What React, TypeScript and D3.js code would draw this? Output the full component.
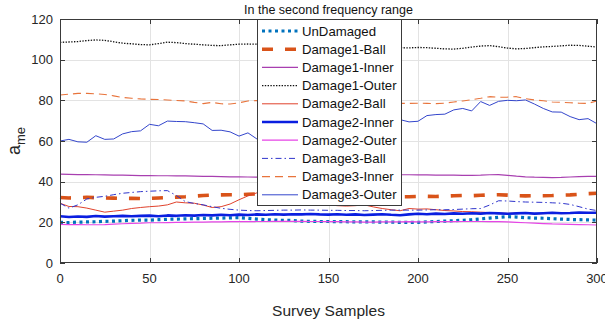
import React, { useRef, useEffect } from 'react';
import * as d3 from 'd3';

// survey sample positions (every 5 samples)
const samples = d3.range(0, 301, 5);

const seriesNames = [
  'UnDamaged', 'Damage1-Ball', 'Damage1-Inner', 'Damage1-Outer', 'Damage2-Ball',
  'Damage2-Inner', 'Damage2-Outer', 'Damage3-Ball', 'Damage3-Inner', 'Damage3-Outer',
];

const unDamaged = [
  20.0, 19.9, 20.1, 20.2, 20.3, 20.5, 20.6, 20.8, 21.0, 21.1, 21.1, 21.3, 21.5, 21.6, 21.7, 21.8,
  21.9, 22.0, 22.1, 22.2, 22.3, 22.0, 21.6, 21.3, 21.1, 21.0, 20.9, 20.6, 20.5, 20.4, 20.4, 20.3,
  20.3, 20.2, 20.2, 20.2, 20.1, 20.1, 20.0, 20.0, 20.0, 20.2, 20.4, 20.6, 20.8, 21.0, 21.3, 21.7,
  22.1, 22.5, 22.8, 22.6, 22.3, 22.1, 22.0, 21.8, 21.6, 21.4, 21.3, 21.2, 21.1,
];
const damage1Ball = [
  32.2, 32.0, 32.1, 32.3, 32.1, 32.0, 31.9, 31.8, 31.8, 31.7, 31.8, 32.0, 32.2, 32.4, 32.6, 32.9,
  33.2, 33.4, 33.5, 33.6, 33.6, 33.8, 34.0, 33.8, 33.6, 33.5, 33.4, 33.3, 33.2, 33.1, 33.0, 32.9,
  32.8, 32.7, 32.7, 32.6, 32.6, 32.6, 32.6, 32.6, 32.7, 32.8, 32.7, 32.9, 33.1, 33.2, 33.1, 33.3,
  33.5, 33.6, 33.4, 33.1, 33.0, 33.1, 33.1, 33.2, 33.4, 33.5, 33.8, 34.1, 34.3,
];
const damage1Inner = [
  43.7, 43.6, 43.5, 43.5, 43.4, 43.3, 43.2, 43.2, 43.1, 43.0, 43.0, 42.9, 42.9, 42.8, 42.8, 42.7,
  42.6, 42.6, 42.5, 42.4, 42.4, 42.3, 42.2, 42.3, 42.4, 42.5, 42.6, 42.7, 42.8, 42.9, 43.0, 43.1,
  43.2, 43.2, 43.3, 43.3, 43.4, 43.4, 43.4, 43.4, 43.3, 43.3, 43.2, 43.2, 43.2, 43.1, 43.1, 43.2,
  43.4, 43.5, 43.1, 42.7, 42.4, 42.2, 42.1, 42.0, 42.1, 42.3, 42.5, 42.6, 42.6,
];
const damage1Outer = [
  108.5, 108.7, 108.9, 109.4, 109.7, 109.5, 108.8, 108.1, 107.8, 107.4, 107.3, 107.9, 108.6, 108.4,
  107.9, 107.6, 107.3, 107.0, 106.9, 107.3, 107.6, 107.7, 107.6, 107.5, 107.4, 107.3, 107.2, 107.1,
  107.0, 106.9, 106.8, 106.7, 106.6, 106.5, 106.4, 106.3, 106.2, 106.0, 105.9, 105.8, 106.0, 105.9,
  105.6, 105.3, 105.2, 105.6, 106.2, 106.7, 106.9, 106.4, 105.7, 105.3, 105.5, 105.9, 106.3, 106.5,
  106.8, 107.1, 107.0, 106.6, 106.2,
];
const damage2Ball = [
  29.4, 27.8, 27.7, 27.0, 26.0, 25.0, 25.5, 26.0, 26.8, 27.3, 27.7, 28.0, 28.6, 30.0, 29.6, 29.4,
  28.5, 27.3, 27.7, 29.0, 31.1, 33.0, 34.5, 34.3, 33.8, 33.0, 32.0, 31.0, 30.0, 29.2, 28.6, 28.2,
  28.0, 28.2, 28.6, 27.6, 26.8, 26.2, 25.7, 26.8, 26.5, 26.6, 26.2, 25.8, 25.6, 25.3, 25.2, 25.0,
  24.8, 24.6, 24.4, 24.5, 24.4, 24.2, 24.3, 24.5, 24.6, 24.7, 24.8, 24.7, 24.6,
];
const damage2Inner = [
  23.0, 22.6, 22.9, 22.7, 23.1, 22.8, 23.0, 23.2, 23.0, 23.2, 23.3, 23.0, 23.4, 23.2, 23.5, 23.3,
  23.6, 23.4, 23.7, 23.5, 23.8, 23.6, 23.9, 23.7, 24.0, 23.8, 24.0, 23.9, 24.1, 23.9, 23.8, 24.0,
  23.7, 23.9, 23.6, 23.8, 24.0, 23.7, 23.5, 23.9, 24.2, 24.0, 24.3, 24.1, 24.4, 24.2, 24.5, 24.3,
  24.6, 24.4, 24.2, 24.4, 24.6, 24.3, 24.5, 24.7, 24.5, 24.6, 24.8, 24.7, 24.7,
];
const damage2Outer = [
  19.0, 18.9, 18.9, 18.8, 18.8, 18.9, 19.1, 19.3, 19.5, 19.6, 19.8, 19.8, 19.9, 20.0, 20.0, 20.1,
  20.1, 20.2, 20.2, 20.3, 20.3, 20.3, 20.4, 20.4, 20.5, 20.5, 20.5, 20.5, 20.4, 20.4, 20.3, 20.3,
  20.2, 20.2, 20.1, 20.1, 20.2, 20.2, 20.2, 20.3, 20.2, 20.2, 20.3, 20.3, 20.3, 20.4, 20.4, 20.4,
  20.3, 20.3, 20.2, 20.0, 19.8, 19.6, 19.4, 19.2, 19.1, 19.0, 18.9, 18.8, 18.7,
];
const damage3Ball = [
  29.4, 27.0, 28.6, 31.5, 32.3, 32.8, 33.6, 34.3, 34.7, 35.1, 35.3, 35.5, 35.6, 33.2, 30.2, 29.3,
  28.6, 27.7, 26.9, 26.4, 26.0, 25.8, 25.7, 25.8, 25.9, 26.0, 26.0, 26.1, 26.0, 26.0, 25.9, 25.9,
  25.8, 25.8, 25.7, 25.8, 25.9, 26.0, 26.0, 26.0, 26.0, 26.1, 26.2, 26.2, 26.3, 26.5, 26.7, 26.8,
  28.5, 30.6, 30.5, 30.2, 30.0, 29.9, 29.8, 29.6, 29.4, 28.8, 27.7, 26.5, 25.8,
];
const damage3Inner = [
  82.6, 83.0, 83.4, 83.4, 83.2, 82.9, 82.2, 81.4, 81.0, 80.7, 80.5, 80.4, 80.2, 79.9, 79.7, 79.0,
  78.4, 79.0, 78.3, 78.2, 78.8, 79.7, 79.9, 79.8, 79.6, 79.5, 79.4, 79.3, 79.2, 79.1, 79.0, 78.9,
  78.8, 78.7, 78.6, 78.6, 78.5, 78.5, 78.5, 78.5, 78.6, 78.5, 78.4, 78.6, 79.2, 79.7, 80.3, 81.0,
  81.8, 81.5, 81.6, 81.8, 80.8, 80.2, 79.8, 79.2, 79.0, 78.8, 78.6, 78.5, 79.7,
];
const damage3Outer = [
  60.0, 60.8, 59.6, 59.4, 62.6, 60.8, 61.0, 63.5, 64.6, 65.0, 68.2, 67.5, 69.8, 69.6, 69.5, 69.0,
  68.4, 65.2, 65.3, 64.5, 62.4, 64.0, 61.0, 60.5, 61.0, 62.0, 63.0, 63.8, 64.5, 65.0, 65.6, 66.2,
  66.8, 67.5, 68.3, 69.0, 69.8, 70.6, 70.5, 69.4, 69.7, 72.5, 73.0, 73.2, 75.3, 76.0, 74.8, 79.4,
  77.5, 79.5, 80.0, 79.8, 80.2, 78.2, 76.0, 74.3, 74.2, 72.0, 70.5, 71.0, 68.5,
];

const seriesValues = [
  unDamaged, damage1Ball, damage1Inner, damage1Outer, damage2Ball,
  damage2Inner, damage2Outer, damage3Ball, damage3Inner, damage3Outer,
];

const xTicks = [0, 50, 100, 150, 200, 250, 300];
const yTicks = [0, 20, 40, 60, 80, 100, 120];

const styles = [
  { color: '#0072bd', width: 3.2, dash: '3 3.5' },
  { color: '#d95319', width: 3.6, dash: '11 12' },
  { color: '#a83fb0', width: 1.2, dash: null },
  { color: '#111111', width: 1.3, dash: '1.4 1.4' },
  { color: '#e0422c', width: 1, dash: null },
  { color: '#0a1ee0', width: 2.6, dash: null },
  { color: '#e645e6', width: 1.2, dash: null },
  { color: '#2f35cc', width: 1, dash: '6 3 1.5 3' },
  { color: '#e8743c', width: 1.1, dash: '8 5' },
  { color: '#3446cc', width: 1, dash: null },
];

const W = 605;
const H = 327;

const App: React.FC = () => {
  const svgRef = useRef<SVGSVGElement>(null);

  useEffect(() => {
    const root = d3.select(svgRef.current);
    root.selectAll('*').remove();
    root.attr('width', W).attr('height', H);

    const left = 60, right = 597, top = 19, bottom = 263;
    const x = d3.scaleLinear().domain([0, 300]).range([left, right]);
    const y = d3.scaleLinear().domain([0, 120]).range([bottom, top]);
    const font = 'Liberation Sans, Arial, Helvetica, sans-serif';

    root.append('rect').attr('width', W).attr('height', H).attr('fill', '#fff');

    // grid
    const grid = root.append('g').attr('stroke', '#e3e3e3').attr('stroke-width', 1);
    grid.selectAll('line.gx').data(xTicks.slice(1, -1)).enter().append('line')
      .attr('x1', d => Math.round(x(d)) + 0.5).attr('x2', d => Math.round(x(d)) + 0.5)
      .attr('y1', top).attr('y2', bottom);
    grid.selectAll('line.gy').data(yTicks.slice(1, -1)).enter().append('line')
      .attr('y1', d => Math.round(y(d)) + 0.5).attr('y2', d => Math.round(y(d)) + 0.5)
      .attr('x1', left).attr('x2', right);

    // data lines
    const line = d3.line<number>()
      .x((_, i) => x(samples[i]))
      .y(d => y(d));
    const plot = root.append('g');
    seriesValues.forEach((vals, k) => {
      const st = styles[k];
      plot.append('path')
        .attr('d', line(vals))
        .attr('fill', 'none')
        .attr('stroke', st.color)
        .attr('stroke-width', st.width)
        .attr('stroke-dasharray', st.dash)
        .attr('stroke-linejoin', 'round');
    });

    // box + ticks
    const axisColor = '#3a3a3a';
    root.append('rect')
      .attr('x', left + 0.5).attr('y', top + 0.5)
      .attr('width', right - left - 1).attr('height', bottom - top - 1)
      .attr('fill', 'none').attr('stroke', axisColor).attr('stroke-width', 1);
    const ticks = root.append('g').attr('stroke', axisColor).attr('stroke-width', 1);
    xTicks.forEach(t => {
      const px = Math.round(x(t)) + 0.5;
      ticks.append('line').attr('x1', px).attr('x2', px).attr('y1', bottom).attr('y2', bottom - 5);
      ticks.append('line').attr('x1', px).attr('x2', px).attr('y1', top).attr('y2', top + 5);
    });
    yTicks.forEach(t => {
      const py = Math.round(y(t)) + 0.5;
      ticks.append('line').attr('x1', left).attr('x2', left + 5).attr('y1', py).attr('y2', py);
      ticks.append('line').attr('x1', right).attr('x2', right - 5).attr('y1', py).attr('y2', py);
    });

    // tick labels
    root.append('g').selectAll('text').data(xTicks).enter().append('text')
      .attr('x', d => x(d)).attr('y', 283)
      .attr('text-anchor', 'middle')
      .attr('font-family', font).attr('font-size', 13).attr('fill', '#262626')
      .text(d => d);
    root.append('g').selectAll('text').data(yTicks).enter().append('text')
      .attr('x', 53).attr('y', d => y(d) + 4.5)
      .attr('text-anchor', 'end')
      .attr('font-family', font).attr('font-size', 13).attr('fill', '#262626')
      .text(d => d);

    // title and axis labels
    root.append('text')
      .attr('x', (left + right) / 2).attr('y', 14)
      .attr('text-anchor', 'middle')
      .attr('font-family', font).attr('font-size', 12.5).attr('fill', '#111')
      .text('In the second frequency range');
    root.append('text')
      .attr('x', (left + right) / 2).attr('y', 316)
      .attr('text-anchor', 'middle')
      .attr('font-family', font).attr('font-size', 15.5).attr('fill', '#262626')
      .text('Survey Samples');
    const yl = root.append('text')
      .attr('transform', `translate(20,${(top + bottom) / 2}) rotate(-90)`)
      .attr('text-anchor', 'middle')
      .attr('font-family', font).attr('fill', '#262626');
    yl.append('tspan').attr('font-size', 18).text('a');
    yl.append('tspan').attr('font-size', 13).attr('dy', 5).text('me');

    // legend
    const lgX = 257.5, lgY = 19.5, lgW = 144, lgH = 186, rowH = 18.2;
    const lg = root.append('g');
    lg.append('rect')
      .attr('x', lgX).attr('y', lgY).attr('width', lgW).attr('height', lgH)
      .attr('fill', '#fff').attr('stroke', axisColor).attr('stroke-width', 1);
    seriesNames.forEach((name, k) => {
      const st = styles[k];
      const cy = 31 + k * rowH;
      lg.append('line')
        .attr('x1', 262).attr('x2', 298).attr('y1', cy).attr('y2', cy)
        .attr('stroke', st.color).attr('stroke-width', st.width)
        .attr('stroke-dasharray', st.dash);
      lg.append('text')
        .attr('x', 302).attr('y', cy + 4.6)
        .attr('font-family', font).attr('font-size', 13.2).attr('fill', '#111')
        .text(name);
    });
  }, []);

  return <svg ref={svgRef} style={{ position: 'absolute', left: 0, top: 0 }} />;
};

export default App;
